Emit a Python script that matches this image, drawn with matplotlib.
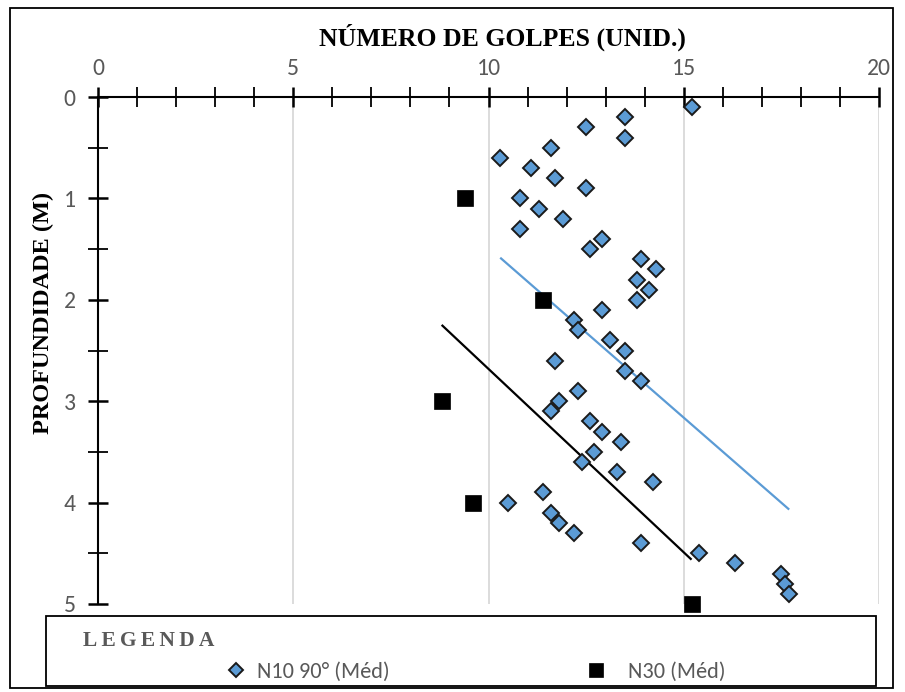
import numpy as np
import matplotlib
matplotlib.use('Agg')
import matplotlib.pyplot as plt
from matplotlib.ticker import MultipleLocator
from matplotlib.patches import Rectangle
from matplotlib import font_manager as fm

# ---------------- data ----------------
n10_depth = [0.1, 0.2, 0.3, 0.4, 0.5, 0.6, 0.7, 0.8, 0.9, 1.0,
             1.1, 1.2, 1.3, 1.4, 1.5, 1.6, 1.7, 1.8, 1.9, 2.0,
             2.1, 2.2, 2.3, 2.4, 2.5, 2.6, 2.7, 2.8, 2.9, 3.0,
             3.1, 3.2, 3.3, 3.4, 3.5, 3.6, 3.7, 3.8, 3.9, 4.0,
             4.1, 4.2, 4.3, 4.4, 4.5, 4.6, 4.7, 4.8, 4.9]
n10_blows = [15.2, 13.5, 12.5, 13.5, 11.6, 10.3, 11.1, 11.7, 12.5, 10.8,
             11.3, 11.9, 10.8, 12.9, 12.6, 13.9, 14.3, 13.8, 14.1, 13.8,
             12.9, 12.2, 12.3, 13.1, 13.5, 11.7, 13.5, 13.9, 12.3, 11.8,
             11.6, 12.6, 12.9, 13.4, 12.7, 12.4, 13.3, 14.2, 11.4, 10.5,
             11.6, 11.8, 12.2, 13.9, 15.4, 16.3, 17.5, 17.6, 17.7]
n30_depth = [1, 2, 3, 4, 5]
n30_blows = [9.4, 11.4, 8.8, 9.6, 15.2]

x_ticks = [0, 5, 10, 15, 20]
y_ticks = [0, 1, 2, 3, 4, 5]
label_n10 = "N10 90° (Méd)"
label_n30 = "N30 (Méd)"
x_title = "NÚMERO DE GOLPES (UNID.)"
y_title = "PROFUNDIDADE (M)"
legend_title = "LEGENDA"

# ---------------- fonts ----------------
avail = {f.name for f in fm.fontManager.ttflist}
sans = next((f for f in ['Carlito', 'Liberation Sans Narrow', 'Lato', 'Open Sans'] if f in avail), 'DejaVu Sans')
serif = 'Liberation Serif' if 'Liberation Serif' in avail else 'DejaVu Serif'
plt.rcParams['font.family'] = [sans, 'DejaVu Sans']

GRAY = '#595959'
BLUE = '#5b9bd5'

W, H = 905, 692
fig = plt.figure(figsize=(W / 100, H / 100), dpi=100)

def fx(px):
    return px / W

def fy(py):
    return 1 - py / H

ax = fig.add_axes([fx(98), fy(604), fx(879) - fx(98), fy(97) - fy(604)])

# trend lines (linear fit of depth on blows, drawn over data range)
def trend(xs, ys):
    xs = np.asarray(xs); ys = np.asarray(ys)
    a, b = np.polyfit(xs, ys, 1)
    xr = np.array([xs.min(), xs.max()])
    return xr, a * xr + b

tx, ty = trend(n10_blows, n10_depth)
ax.plot(tx, ty, color=BLUE, lw=1.6, zorder=2, solid_capstyle='butt')
tx, ty = trend(n30_blows, n30_depth)
ax.plot(tx, ty, color='black', lw=1.6, zorder=2, solid_capstyle='butt')

h1, = ax.plot(n10_blows, n10_depth, ls='none', marker='D', markersize=8.6,
              markerfacecolor=BLUE, markeredgecolor='#1a1a1a', markeredgewidth=1.4,
              zorder=3, clip_on=False)
h2, = ax.plot(n30_blows, n30_depth, ls='none', marker='s', markersize=12,
              markerfacecolor='black', markeredgecolor='black', markeredgewidth=0.5,
              zorder=3, clip_on=False)

ax.set_xlim(0, 20)
ax.set_ylim(5, 0)
ax.set_xticks(x_ticks)
ax.set_yticks(y_ticks)
ax.xaxis.set_minor_locator(MultipleLocator(1))
ax.yaxis.set_minor_locator(MultipleLocator(0.5))
ax.xaxis.tick_top()
ax.grid(axis='x', which='major', color='#d9d9d9', lw=1.3, zorder=0)
ax.set_axisbelow(True)

for s in ['right', 'bottom']:
    ax.spines[s].set_visible(False)
for s in ['top', 'left']:
    ax.spines[s].set_linewidth(1.5)
    ax.spines[s].set_color('black')

ax.tick_params(axis='x', which='both', direction='inout', length=14, width=1.3,
               top=True, bottom=False, labeltop=True, labelbottom=False,
               labelsize=17, labelcolor=GRAY, pad=6)
ax.tick_params(axis='y', which='both', direction='inout', length=14, width=1.3,
               left=True, right=False, labelsize=17, labelcolor=GRAY, pad=9)
ax.tick_params(which='major', width=1.8)

# titles
fig.text(fx(502), fy(37), x_title, family=serif, weight='bold', fontsize=18.5,
         ha='center', va='center', color='black')
fig.text(fx(43), fy(313), y_title, family=serif, weight='bold', fontsize=17.5,
         ha='center', va='center', rotation=90, color='black')

# outer frame
fig.patches.append(Rectangle((fx(10), fy(688)), fx(893) - fx(10), fy(8) - fy(688),
                             transform=fig.transFigure, fill=False, lw=1.3,
                             ec='black', zorder=0))
# legend box
fig.patches.append(Rectangle((fx(46), fy(686)), fx(876) - fx(46), fy(616) - fy(686),
                             transform=fig.transFigure, fill=True, fc='white', lw=1.3,
                             ec='black', zorder=5))
fig.text(fx(83), fy(641), "\u2009".join(legend_title), family=serif, weight='bold',
         fontsize=15.5, ha='left', va='center', color=GRAY, zorder=6)

leg1 = fig.legend([h1], [label_n10], loc='center left',
                  bbox_to_anchor=(fx(225), fy(672)), frameon=False,
                  handlelength=1.0, handletextpad=0.45, borderpad=0, borderaxespad=0,
                  fontsize=16, labelcolor=GRAY, markerscale=0.85)
leg2 = fig.legend([h2], [label_n30], loc='center left',
                  bbox_to_anchor=(fx(585), fy(672)), frameon=False,
                  handlelength=1.0, handletextpad=0.95, borderpad=0, borderaxespad=0,
                  fontsize=16, labelcolor=GRAY, markerscale=0.85)
leg1.set_zorder(7)
leg2.set_zorder(7)

fig.savefig('out.png', dpi=100)
